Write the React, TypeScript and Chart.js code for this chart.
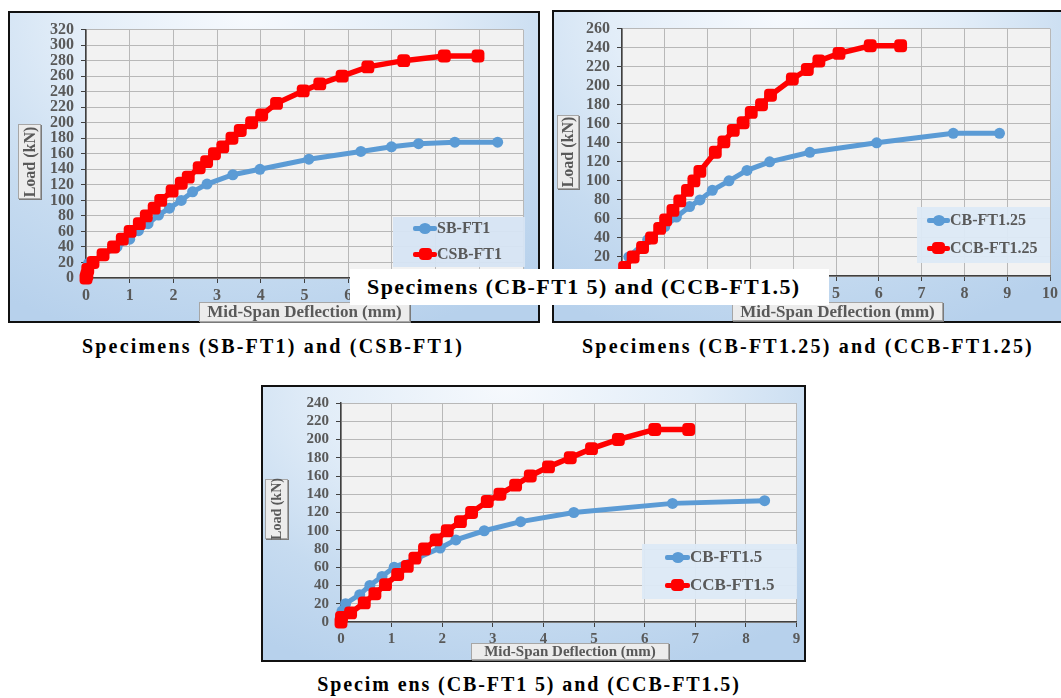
import React, { useEffect, useRef } from "react";
import { Chart, registerables } from "chart.js";

Chart.register(...registerables);

// ---------- DATA ----------
// Chart 1: SB-FT1 / CSB-FT1
const sbDefl = [0, 0.06, 0.4, 0.71, 1.0, 1.2, 1.42, 1.66, 1.91, 2.18, 2.44, 2.77, 3.36, 3.98, 5.1, 6.29, 6.99, 7.61, 8.44, 9.42];
const sbLoad = [0, 19, 30, 40, 50, 61, 70, 81, 90, 100, 111, 121, 133, 140, 153, 163, 169, 173, 175, 175];
const csbDefl = [0, 0.02, 0.04, 0.16, 0.39, 0.63, 0.83, 1.01, 1.22, 1.38, 1.56, 1.71, 1.97, 2.18, 2.34, 2.59, 2.76, 2.94, 3.13, 3.34, 3.53, 3.79, 4.02, 4.36, 4.97, 5.35, 5.86, 6.45, 7.27, 8.2, 8.97];
const csbLoad = [0, 4, 11, 20, 30, 40, 50, 60, 70, 80, 90, 100, 112, 122, 130, 142, 150, 160, 169, 180, 190, 200, 210, 225, 241, 250, 260, 272, 280, 286, 286];

// Chart 2: CB-FT1.25 / CCB-FT1.25
const cb125Defl = [0, 0.16, 0.6, 1.0, 1.27, 1.58, 1.82, 2.11, 2.5, 2.92, 3.45, 4.39, 5.95, 7.74, 8.82];
const cb125Load = [0, 20, 38, 52, 62, 73, 80, 90, 100, 111, 120, 130, 140, 150, 150];
const ccb125Defl = [0, 0.06, 0.26, 0.48, 0.69, 0.88, 1.02, 1.19, 1.35, 1.53, 1.68, 1.82, 2.18, 2.38, 2.6, 2.83, 3.02, 3.26, 3.47, 3.98, 4.33, 4.6, 5.07, 5.8, 6.51];
const ccb125Load = [0, 9, 20, 30, 40, 50, 59, 69, 79, 90, 100, 110, 130, 141, 153, 161, 172, 180, 190, 207, 217, 226, 234, 242, 242];

// Chart 3: CB-FT1.5 / CCB-FT1.5
const cb15Defl = [0, 0.02, 0.09, 0.37, 0.57, 0.81, 1.05, 1.5, 1.96, 2.27, 2.83, 3.55, 4.6, 6.55, 8.37];
const cb15Load = [0, 12, 20, 30, 40, 50, 60, 70, 81, 90, 100, 110, 120, 130, 133];
const ccb15Defl = [0, 0.01, 0.19, 0.46, 0.67, 0.88, 1.12, 1.31, 1.46, 1.65, 1.88, 2.1, 2.36, 2.58, 2.89, 3.14, 3.45, 3.74, 4.1, 4.53, 4.95, 5.48, 6.2, 6.87];
const ccb15Load = [0, 5, 10, 21, 31, 41, 52, 61, 70, 80, 90, 100, 110, 120, 132, 140, 150, 160, 170, 180, 190, 200, 211, 211];

const seriesNames1 = ["SB-FT1", "CSB-FT1"];
const seriesNames2 = ["CB-FT1.25", "CCB-FT1.25"];
const seriesNames3 = ["CB-FT1.5", "CCB-FT1.5"];

const xTitle = "Mid-Span Deflection (mm)";
const yTitle = "Load (kN)";
const caption1 = "Specimens (SB-FT1) and (CSB-FT1)";
const caption2 = "Specimens (CB-FT1.25) and (CCB-FT1.25)";
const caption3 = "Specim ens (CB-FT1 5) and (CCB-FT1.5)";
const overlayText = "Specimens (CB-FT1 5) and (CCB-FT1.5)";

const BLUE = "#5b9bd5";
const RED = "#ff0000";
const GRAY_TXT = "#595959";
const SERIF = "'Liberation Serif', 'Times New Roman', serif";

const zip = (xs: number[], ys: number[]) => xs.map((x, i) => ({ x, y: ys[i] }));

const plotBg = {
  id: "plotBg",
  beforeDraw(chart: any) {
    const { ctx, chartArea: a } = chart;
    ctx.save();
    ctx.fillStyle = "#f2f2f2";
    ctx.fillRect(a.left, a.top, a.right - a.left, a.bottom - a.top);
    ctx.restore();
  },
};

type ChartProps = {
  left: number; top: number; w: number; h: number;
  yW: number; xH: number; padR: number; padT: number;
  xMax: number; yMax: number; fontSize: number;
  blueX: number[]; blueY: number[]; redX: number[]; redY: number[];
  names: string[];
};

function LineChart(p: ChartProps) {
  const ref = useRef<HTMLCanvasElement>(null);
  useEffect(() => {
    const font = { family: SERIF, size: p.fontSize, weight: "bold" as const };
    const chart = new Chart(ref.current!, {
      type: "line",
      data: {
        datasets: [
          {
            label: p.names[0],
            data: zip(p.blueX, p.blueY),
            borderColor: BLUE,
            backgroundColor: BLUE,
            borderWidth: 5,
            pointRadius: 5.5,
            pointStyle: "circle",
            pointBorderWidth: 0,
            clip: false as any,
            order: 2,
          },
          {
            label: p.names[1],
            data: zip(p.redX, p.redY),
            borderColor: RED,
            backgroundColor: RED,
            borderWidth: 5.5,
            pointRadius: 7.5,
            pointStyle: "rectRounded",
            pointBorderWidth: 0,
            clip: false as any,
            order: 1,
          },
        ],
      },
      options: {
        responsive: false,
        animation: false,
        devicePixelRatio: 1,
        layout: { padding: { left: 0, right: p.padR, top: p.padT, bottom: 0 } },
        plugins: { legend: { display: false }, tooltip: { enabled: false } },
        scales: {
          x: {
            type: "linear",
            min: 0,
            max: p.xMax,
            ticks: { stepSize: 1, color: GRAY_TXT, font, padding: 3, autoSkip: false, maxRotation: 0 },
            grid: { color: "#b8b8b8", lineWidth: 1, tickLength: 5, tickColor: "#404040" },
            border: { color: "#404040", width: 1.5 },
            afterFit: (s: any) => { s.height = p.xH; },
          },
          y: {
            type: "linear",
            min: 0,
            max: p.yMax,
            ticks: { stepSize: 20, color: GRAY_TXT, font, padding: 7, autoSkip: false },
            grid: { color: "#b8b8b8", lineWidth: 1, tickLength: 5, tickColor: "#404040" },
            border: { color: "#404040", width: 1.5 },
            afterFit: (s: any) => { s.width = p.yW; },
          },
        },
      },
      plugins: [plotBg],
    });
    return () => chart.destroy();
  }, []);
  return (
    <canvas
      ref={ref}
      width={p.w}
      height={p.h}
      style={{ position: "absolute", left: p.left, top: p.top, width: p.w, height: p.h }}
    />
  );
}

const frameBg =
  "radial-gradient(ellipse 85% 110% at 45% 0%, #f6f9fd 0%, #e2edf8 40%, #c6dbf0 72%, #b7d1ec 100%)";

function Frame({ left, top, width, height }: any) {
  return (
    <div
      style={{
        position: "absolute", left, top, width, height, boxSizing: "border-box",
        border: "2px solid #111", background: frameBg,
      }}
    />
  );
}

function XTitle({ left, top, width, height, size }: any) {
  return (
    <div
      style={{
        position: "absolute", left, top, width, height, boxSizing: "border-box",
        background: "#ececec", border: "1px solid #a6a6a6", boxShadow: "1px 1px 0 #7a7a7a",
        font: `bold ${size}px ${SERIF}`, color: GRAY_TXT, textAlign: "center",
        lineHeight: `${height - 2}px`, whiteSpace: "nowrap", zIndex: 2, overflow: "hidden",
      }}
    >
      {xTitle}
    </div>
  );
}

function YTitle({ left, top, width, height, size }: any) {
  return (
    <div
      style={{
        position: "absolute", left, top, width, height, boxSizing: "border-box",
        background: "#ececec", border: "1px solid #a6a6a6", boxShadow: "1px 1px 0 #7a7a7a",
        zIndex: 2,
      }}
    >
      <div
        style={{
          position: "absolute", left: "50%", top: "50%",
          transform: "translate(-50%, -50%) rotate(-90deg)",
          font: `bold ${size}px ${SERIF}`, color: GRAY_TXT, whiteSpace: "nowrap",
        }}
      >
        {yTitle}
      </div>
    </div>
  );
}

function Legend({ left, top, width, height, names, rows, mx, mw, size, bg }: any) {
  const colors = [BLUE, RED];
  return (
    <div
      style={{
        position: "absolute", left, top, width, height, background: bg, zIndex: 2,
      }}
    >
      {names.map((n: string, i: number) => (
        <div key={n} style={{ position: "absolute", left: 0, top: rows[i], width }}>
          <div
            style={{
              position: "absolute", left: mx, top: -2.5, width: mw, height: 5,
              background: colors[i], borderRadius: 2,
            }}
          />
          <div
            style={{
              position: "absolute", left: mx + mw / 2 - (i ? 6.5 : 6), top: i ? -6 : -5.5,
              width: i ? 13 : 12, height: i ? 12 : 11,
              background: colors[i], borderRadius: i ? 4 : "50%",
            }}
          />
          <div
            style={{
              position: "absolute", left: mx + mw, top: -size * 0.6,
              font: `bold ${size}px ${SERIF}`, color: GRAY_TXT, whiteSpace: "nowrap",
              lineHeight: `${size * 1.2}px`,
            }}
          >
            {n}
          </div>
        </div>
      ))}
    </div>
  );
}

function Caption({ cx, cy, text, size, ls }: any) {
  return (
    <div
      style={{
        position: "absolute", left: cx - 300, top: cy - 15, width: 600, height: 30,
        textAlign: "center", lineHeight: "30px", whiteSpace: "nowrap",
        font: `bold ${size}px ${SERIF}`, letterSpacing: ls, color: "#000",
      }}
    >
      {text}
    </div>
  );
}

export default function App() {
  return (
    <div
      style={{
        position: "fixed", left: 0, top: 0, width: 1061, height: 698,
        background: "#ffffff", overflow: "hidden",
      }}
    >
      {/* Chart 1 */}
      <Frame left={8} top={11} width={532} height={312} />
      <LineChart
        left={10} top={13} w={528} h={308}
        yW={76} xH={43} padR={15} padT={15}
        xMax={10} yMax={320} fontSize={16}
        blueX={sbDefl} blueY={sbLoad} redX={csbDefl} redY={csbLoad}
        names={seriesNames1}
      />
      <YTitle left={18} top={124} width={23} height={75} size={16} />
      <XTitle left={199} top={302} width={211} height={20} size={17} />
      <Legend left={393} top={217} width={132} height={50} names={seriesNames1}
        rows={[11, 37]} mx={20} mw={24} size={16} bg="rgba(214,228,243,0.95)" />

      {/* Chart 2 */}
      <Frame left={552} top={10} width={515} height={313} />
      <LineChart
        left={554} top={12} w={507} h={309}
        yW={68} xH={45} padR={10} padT={15}
        xMax={10} yMax={260} fontSize={16}
        blueX={cb125Defl} blueY={cb125Load} redX={ccb125Defl} redY={ccb125Load}
        names={seriesNames2}
      />
      <YTitle left={557} top={115} width={22} height={74} size={16} />
      <XTitle left={732} top={302} width={211} height={19} size={17} />
      <Legend left={917} top={207} width={133} height={56} names={seriesNames2}
        rows={[13, 41]} mx={10} mw={23} size={16} bg="rgba(220,233,246,0.95)" />

      {/* Chart 3 */}
      <Frame left={261} top={385} width={545} height={277} />
      <LineChart
        left={263} top={387} w={541} h={273}
        yW={78} xH={38} padR={6} padT={9}
        xMax={9} yMax={240} fontSize={15}
        blueX={cb15Defl} blueY={cb15Load} redX={ccb15Defl} redY={ccb15Load}
        names={seriesNames3}
      />
      <YTitle left={265} top={479} width={23} height={60} size={14} />
      <XTitle left={471} top={643} width={198} height={17} size={15} />
      <Legend left={642} top={544} width={155} height={55} names={seriesNames3}
        rows={[13, 41]} mx={23} mw={25} size={17} bg="rgba(220,233,246,0.95)" />

      {/* Captions */}
      <Caption cx={273} cy={350} text={caption1} size={20} ls={2.2} />
      <Caption cx={808} cy={350} text={caption2} size={20} ls={2.2} />
      <Caption cx={529} cy={688} text={caption3} size={20} ls={1.9} />

      {/* White overlay label across the top charts */}
      <div
        style={{
          position: "absolute", left: 350, top: 269, width: 479, height: 36,
          background: "#ffffff", zIndex: 5, boxSizing: "border-box", paddingLeft: 17,
          font: `bold 22px ${SERIF}`, letterSpacing: 1.4, lineHeight: "36px",
          whiteSpace: "nowrap", color: "#000",
        }}
      >
        {overlayText}
      </div>
    </div>
  );
}
